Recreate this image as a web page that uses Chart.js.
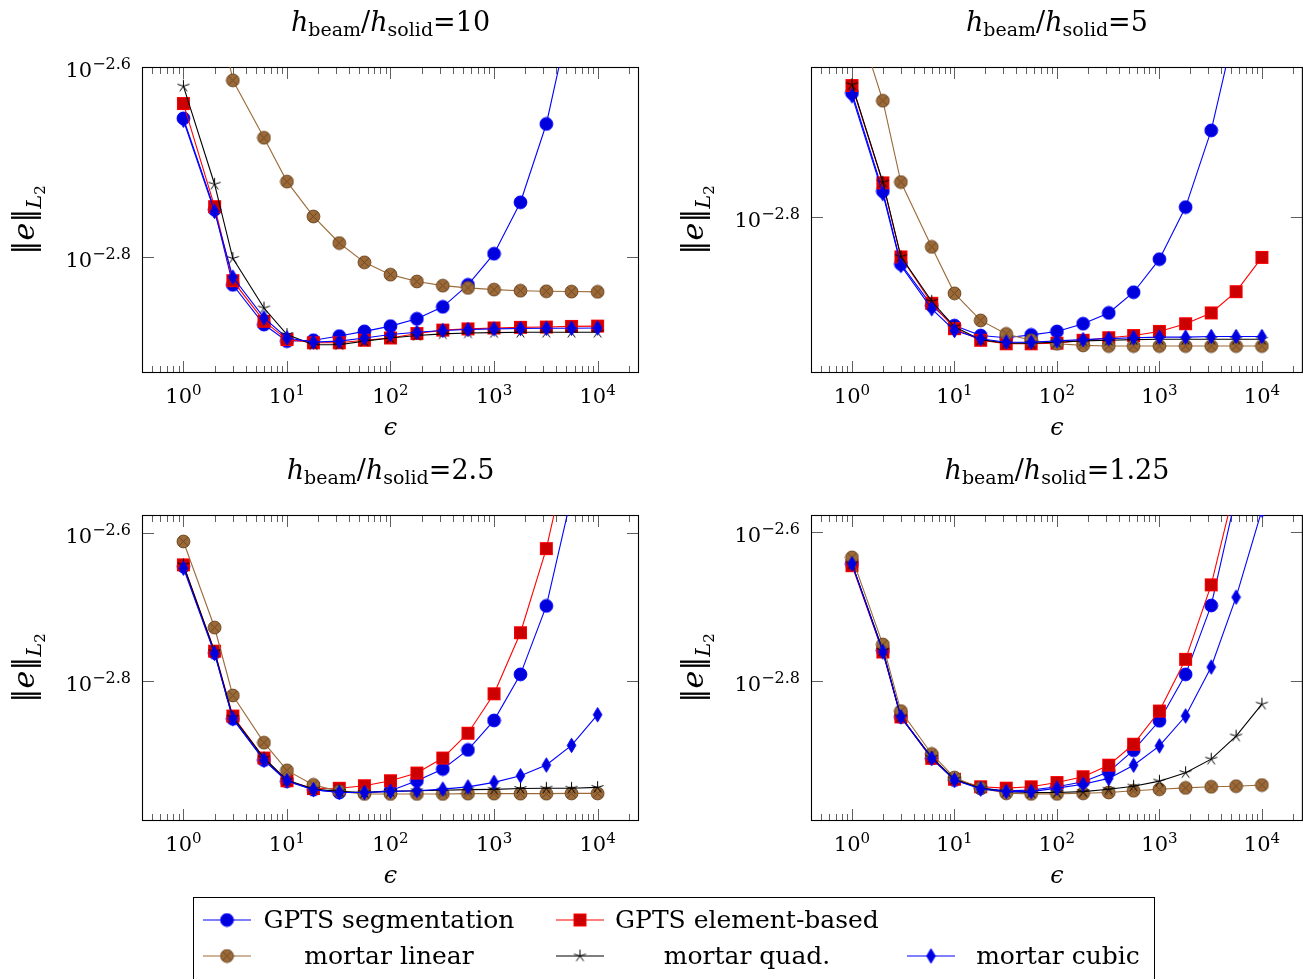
<!DOCTYPE html>
<html lang="en">
<head>
<meta charset="UTF-8">
<title>L2 error vs penalty parameter</title>
<script src="https://cdn.jsdelivr.net/npm/chart.js@4.4.0/dist/chart.umd.min.js"></script>
<style>
  body { margin: 0; background: #fff; width: 1310px; height: 979px; position: relative; overflow: hidden; font-family: "DejaVu Serif", serif; }
  canvas.panel { position: absolute; }
  #legend { position: absolute; left: 193px; top: 897px; width: 962px; height: 95px; border: 1px solid #000; box-sizing: border-box; }
  .lg-txt { position: absolute; width: 400px; text-align: center; font-size: 25px; line-height: 30px; color: #000; white-space: nowrap; }
  .lg-mark { position: absolute; }
</style>
</head>
<body>
<canvas id="p0" class="panel" width="655" height="448" style="left:0;top:0"></canvas>
<canvas id="p1" class="panel" width="655" height="448" style="left:655px;top:0"></canvas>
<canvas id="p2" class="panel" width="655" height="448" style="left:0;top:448px"></canvas>
<canvas id="p3" class="panel" width="655" height="448" style="left:655px;top:448px"></canvas>
<div id="legend"></div>

<script>
// penalty parameter epsilon
const eps = [1, 2, 3, 6, 10, 18, 32, 56, 100, 180, 320, 560, 1000, 1800, 3200, 5600, 10000];
const xTickLabels = ['0', '1', '2', '3', '4'];
const yTickLabels = ['\u22122.6', '\u22122.8'];

const seriesNames = ['GPTS segmentation', 'GPTS element-based', 'mortar linear', 'mortar quad.', 'mortar cubic'];

// h_beam / h_solid = 10
const seg10  = [2.218e-3, 1.778e-3, 1.482e-3, 1.346e-3, 1.293e-3, 1.296e-3, 1.309e-3, 1.324e-3, 1.341e-3, 1.365e-3, 1.405e-3, 1.482e-3, 1.598e-3, 1.810e-3, 2.188e-3, 2.884e-3, 4.169e-3];
const elem10 = [2.299e-3, 1.791e-3, 1.497e-3, 1.357e-3, 1.298e-3, 1.288e-3, 1.288e-3, 1.296e-3, 1.303e-3, 1.317e-3, 1.328e-3, 1.332e-3, 1.335e-3, 1.337e-3, 1.338e-3, 1.340e-3, 1.341e-3];
const lin10  = [3.802e-3, 3.020e-3, 2.432e-3, 2.116e-3, 1.903e-3, 1.749e-3, 1.640e-3, 1.565e-3, 1.519e-3, 1.494e-3, 1.479e-3, 1.471e-3, 1.465e-3, 1.461e-3, 1.459e-3, 1.458e-3, 1.457e-3];
const quad10 = [2.398e-3, 1.891e-3, 1.580e-3, 1.401e-3, 1.314e-3, 1.282e-3, 1.282e-3, 1.293e-3, 1.303e-3, 1.311e-3, 1.316e-3, 1.319e-3, 1.320e-3, 1.321e-3, 1.321e-3, 1.321e-3, 1.321e-3];
const cub10  = [2.208e-3, 1.770e-3, 1.510e-3, 1.368e-3, 1.303e-3, 1.290e-3, 1.293e-3, 1.303e-3, 1.314e-3, 1.321e-3, 1.327e-3, 1.330e-3, 1.332e-3, 1.333e-3, 1.334e-3, 1.334e-3, 1.335e-3];

// h_beam / h_solid = 5
const seg5  = [2.239e-3, 1.703e-3, 1.390e-3, 1.238e-3, 1.171e-3, 1.139e-3, 1.132e-3, 1.141e-3, 1.152e-3, 1.177e-3, 1.213e-3, 1.285e-3, 1.409e-3, 1.629e-3, 2.017e-3, 2.723e-3, 3.981e-3];
const elem5 = [2.286e-3, 1.743e-3, 1.418e-3, 1.246e-3, 1.161e-3, 1.124e-3, 1.113e-3, 1.113e-3, 1.115e-3, 1.124e-3, 1.132e-3, 1.139e-3, 1.152e-3, 1.177e-3, 1.213e-3, 1.287e-3, 1.416e-3];
const lin5  = [2.871e-3, 2.191e-3, 1.747e-3, 1.458e-3, 1.281e-3, 1.188e-3, 1.144e-3, 1.124e-3, 1.113e-3, 1.108e-3, 1.106e-3, 1.106e-3, 1.106e-3, 1.106e-3, 1.106e-3, 1.106e-3, 1.106e-3];
const quad5 = [2.291e-3, 1.746e-3, 1.419e-3, 1.253e-3, 1.167e-3, 1.126e-3, 1.115e-3, 1.115e-3, 1.118e-3, 1.122e-3, 1.124e-3, 1.126e-3, 1.127e-3, 1.127e-3, 1.127e-3, 1.127e-3, 1.127e-3];
const cub5  = [2.221e-3, 1.691e-3, 1.384e-3, 1.227e-3, 1.155e-3, 1.129e-3, 1.118e-3, 1.118e-3, 1.122e-3, 1.126e-3, 1.129e-3, 1.132e-3, 1.134e-3, 1.134e-3, 1.136e-3, 1.136e-3, 1.136e-3];

// h_beam / h_solid = 2.5
const seg25  = [2.264e-3, 1.730e-3, 1.409e-3, 1.239e-3, 1.160e-3, 1.130e-3, 1.120e-3, 1.120e-3, 1.126e-3, 1.162e-3, 1.205e-3, 1.279e-3, 1.402e-3, 1.618e-3, 2.002e-3, 2.818e-3, 3.981e-3];
const elem25 = [2.275e-3, 1.739e-3, 1.421e-3, 1.247e-3, 1.162e-3, 1.134e-3, 1.135e-3, 1.144e-3, 1.162e-3, 1.190e-3, 1.247e-3, 1.347e-3, 1.523e-3, 1.842e-3, 2.393e-3, 3.388e-3, 5.012e-3];
const lin25  = [2.447e-3, 1.872e-3, 1.515e-3, 1.308e-3, 1.200e-3, 1.147e-3, 1.124e-3, 1.115e-3, 1.115e-3, 1.115e-3, 1.115e-3, 1.116e-3, 1.116e-3, 1.116e-3, 1.116e-3, 1.117e-3, 1.117e-3];
const quad25 = [2.275e-3, 1.736e-3, 1.416e-3, 1.247e-3, 1.164e-3, 1.132e-3, 1.124e-3, 1.120e-3, 1.124e-3, 1.126e-3, 1.128e-3, 1.130e-3, 1.131e-3, 1.134e-3, 1.135e-3, 1.135e-3, 1.138e-3];
const cub25  = [2.252e-3, 1.726e-3, 1.409e-3, 1.239e-3, 1.162e-3, 1.130e-3, 1.120e-3, 1.120e-3, 1.124e-3, 1.126e-3, 1.132e-3, 1.140e-3, 1.156e-3, 1.180e-3, 1.220e-3, 1.297e-3, 1.427e-3];

// h_beam / h_solid = 1.25
const seg125  = [2.278e-3, 1.742e-3, 1.418e-3, 1.247e-3, 1.166e-3, 1.137e-3, 1.128e-3, 1.130e-3, 1.142e-3, 1.160e-3, 1.196e-3, 1.279e-3, 1.401e-3, 1.618e-3, 2.003e-3, 2.818e-3, 3.981e-3];
const elem125 = [2.266e-3, 1.734e-3, 1.418e-3, 1.247e-3, 1.169e-3, 1.142e-3, 1.137e-3, 1.142e-3, 1.157e-3, 1.178e-3, 1.221e-3, 1.303e-3, 1.444e-3, 1.695e-3, 2.135e-3, 2.938e-3, 4.467e-3];
const lin125  = [2.325e-3, 1.775e-3, 1.444e-3, 1.264e-3, 1.175e-3, 1.137e-3, 1.119e-3, 1.117e-3, 1.117e-3, 1.119e-3, 1.122e-3, 1.128e-3, 1.133e-3, 1.138e-3, 1.142e-3, 1.144e-3, 1.148e-3];
const quad125 = [2.278e-3, 1.742e-3, 1.418e-3, 1.251e-3, 1.169e-3, 1.137e-3, 1.125e-3, 1.122e-3, 1.122e-3, 1.125e-3, 1.133e-3, 1.144e-3, 1.162e-3, 1.193e-3, 1.244e-3, 1.336e-3, 1.475e-3];
const cub125  = [2.278e-3, 1.734e-3, 1.418e-3, 1.247e-3, 1.166e-3, 1.134e-3, 1.125e-3, 1.125e-3, 1.137e-3, 1.151e-3, 1.172e-3, 1.221e-3, 1.296e-3, 1.422e-3, 1.655e-3, 2.055e-3, 2.692e-3];

const FONT = '"DejaVu Serif", serif';
const xTickVals = [1, 10, 100, 1000, 10000];
const yTickVals = [Math.pow(10, -2.6), Math.pow(10, -2.8)];

// marker images
function mk(w, h, draw) {
  const c = document.createElement('canvas');
  c.width = w; c.height = h;
  const g = c.getContext('2d');
  draw(g, w / 2, h / 2);
  return c;
}
const markCircle = mk(15, 15, (g, cx, cy) => {
  g.beginPath(); g.arc(cx, cy, 6.4, 0, Math.PI * 2);
  g.fillStyle = '#0000dd'; g.fill();
  g.strokeStyle = '#0000ff'; g.lineWidth = 1; g.stroke();
});
const markSquare = mk(15, 15, (g, cx, cy) => {
  g.fillStyle = '#cc0000'; g.fillRect(cx - 6, cy - 6, 12, 12);
  g.strokeStyle = '#ff0000'; g.lineWidth = 1; g.strokeRect(cx - 6, cy - 6, 12, 12);
});
const markOtimes = mk(15, 15, (g, cx, cy) => {
  g.beginPath(); g.arc(cx, cy, 6.4, 0, Math.PI * 2);
  g.fillStyle = '#9c6a38'; g.fill();
  g.strokeStyle = '#6e4823'; g.lineWidth = 1; g.stroke();
  const d = 4.4;
  g.beginPath();
  g.moveTo(cx - d, cy - d); g.lineTo(cx + d, cy + d);
  g.moveTo(cx + d, cy - d); g.lineTo(cx - d, cy + d);
  g.stroke();
});
const markStar = mk(15, 15, (g, cx, cy) => {
  g.strokeStyle = '#000'; g.lineWidth = 1;
  g.beginPath();
  for (let k = 0; k < 5; k++) {
    const a = -Math.PI / 2 + k * 2 * Math.PI / 5;
    g.moveTo(cx, cy); g.lineTo(cx + 6.3 * Math.cos(a), cy + 6.3 * Math.sin(a));
  }
  g.stroke();
});
const markDiamond = mk(11, 17, (g, cx, cy) => {
  g.beginPath();
  g.moveTo(cx, cy - 7.2); g.lineTo(cx + 4.3, cy); g.lineTo(cx, cy + 7.2); g.lineTo(cx - 4.3, cy); g.closePath();
  g.fillStyle = '#0000dd'; g.fill();
  g.strokeStyle = '#0000ff'; g.lineWidth = 1; g.stroke();
});

const seriesStyle = [
  { line: '#0000ff', mark: markCircle },
  { line: '#ff0000', mark: markSquare },
  { line: '#9c6a38', mark: markOtimes },
  { line: '#000000', mark: markStar },
  { line: '#0000ff', mark: markDiamond }
];

function fontOf(p) { return (p.it ? 'italic ' : '') + p.size + 'px ' + FONT; }
function drawRich(ctx, parts, x, y, align) {
  let w = 0;
  parts.forEach(p => { ctx.font = fontOf(p); w += ctx.measureText(p.t).width + (p.gap || 0); });
  let cx = align === 'center' ? x - w / 2 : (align === 'right' ? x - w : x);
  ctx.textAlign = 'left';
  ctx.textBaseline = 'alphabetic';
  parts.forEach(p => {
    ctx.font = fontOf(p);
    ctx.fillText(p.t, cx, y + (p.dy || 0));
    cx += ctx.measureText(p.t).width + (p.gap || 0);
  });
}

const decor = {
  id: 'decor',
  beforeDatasetsDraw(chart) {
    const { ctx, chartArea: a, scales: { x, y } } = chart;
    ctx.save();
    ctx.strokeStyle = '#606060';
    ctx.lineWidth = 1;
    ctx.beginPath();
    for (let d = -1; d <= 4; d++) {
      for (let k = 1; k <= 9; k++) {
        const v = k * Math.pow(10, d);
        if (v < x.min || v > x.max) continue;
        const px = Math.round(x.getPixelForValue(v)) + 0.5;
        const len = k === 1 ? 12 : 7;
        ctx.moveTo(px, a.bottom); ctx.lineTo(px, a.bottom - len);
        ctx.moveTo(px, a.top); ctx.lineTo(px, a.top + len);
      }
    }
    yTickVals.forEach(v => {
      if (v < y.min || v > y.max) return;
      const py = Math.round(y.getPixelForValue(v)) + 0.5;
      ctx.moveTo(a.left, py); ctx.lineTo(a.left + 12, py);
      ctx.moveTo(a.right, py); ctx.lineTo(a.right - 12, py);
    });
    ctx.stroke();
    ctx.strokeStyle = '#000';
    ctx.lineWidth = 1.1;
    ctx.strokeRect(a.left + 0.5, a.top + 0.5, a.right - a.left - 1, a.bottom - a.top - 1);
    ctx.restore();
  },
  afterDraw(chart, args, opts) {
    const { ctx, chartArea: a, scales: { x, y } } = chart;
    const mid = (a.left + a.right) / 2;
    ctx.save();
    ctx.fillStyle = '#000';
    // title
    drawRich(ctx, [
      { t: 'h', it: true, size: 27 },
      { t: 'beam', size: 19, dy: 5 },
      { t: '/', size: 27 },
      { t: 'h', it: true, size: 27 },
      { t: 'solid', size: 19, dy: 5 },
      { t: '=' + opts.ratio, size: 27 }
    ], mid, 31, 'center');
    // x tick labels
    xTickVals.forEach((v, i) => {
      drawRich(ctx, [{ t: '10', size: 21 }, { t: xTickLabels[i], size: 15, dy: -8 }],
        x.getPixelForValue(v), a.bottom + 30, 'center');
    });
    // y tick labels
    yTickVals.forEach((v, i) => {
      if (v < y.min * 0.999 || v > y.max * 1.001) return;
      const py = y.getPixelForValue(v);
      drawRich(ctx, [{ t: '10', size: 21 }, { t: yTickLabels[i], size: 16, dy: -8 }],
        a.left - 11, py + 10, 'right');
    });
    // x axis title
    drawRich(ctx, [{ t: '\u03f5', it: true, size: 24 }], mid, a.bottom + 62, 'center');
    // y axis title
    ctx.translate(a.left - 108, (a.top + a.bottom) / 2);
    ctx.rotate(-Math.PI / 2);
    drawRich(ctx, [
      { t: '|', size: 30, gap: -6 },
      { t: '|', size: 30 },
      { t: 'e', it: true, size: 30 },
      { t: '|', size: 30, gap: -6 },
      { t: '|', size: 30 },
      { t: 'L', it: true, size: 21, dy: 7 },
      { t: '2', size: 15, dy: 11 }
    ], 0, 0, 'center');
    ctx.restore();
  }
};

const panels = [
  { id: 'p0', ratio: '10',   pad: { left: 142, top: 67, right: 16, bottom: 75 }, yMin: 1.197e-3, yMax: Math.pow(10, -2.6), series: [seg10, elem10, lin10, quad10, cub10] },
  { id: 'p1', ratio: '5',    pad: { left: 156, top: 67, right: 4,  bottom: 75 }, yMin: 1.026e-3, yMax: 2.407e-3, series: [seg5, elem5, lin5, quad5, cub5] },
  { id: 'p2', ratio: '2.5',  pad: { left: 142, top: 67, right: 16, bottom: 75 }, yMin: 1.025e-3, yMax: 2.657e-3, series: [seg25, elem25, lin25, quad25, cub25] },
  { id: 'p3', ratio: '1.25', pad: { left: 156, top: 67, right: 4,  bottom: 75 }, yMin: 1.027e-3, yMax: 2.651e-3, series: [seg125, elem125, lin125, quad125, cub125] }
];

panels.forEach(p => {
  new Chart(document.getElementById(p.id), {
    type: 'line',
    data: {
      datasets: p.series.map((vals, i) => ({
        label: seriesNames[i],
        data: eps.map((e, k) => ({ x: e, y: vals[k] })),
        borderColor: seriesStyle[i].line,
        borderWidth: 1.1,
        pointStyle: seriesStyle[i].mark,
        pointRadius: 6,
        fill: false,
        tension: 0,
        order: 4 - i
      }))
    },
    options: {
      responsive: false,
      animation: false,
      devicePixelRatio: 1,
      layout: { padding: p.pad },
      events: [],
      plugins: {
        legend: { display: false },
        tooltip: { enabled: false },
        decor: { ratio: p.ratio }
      },
      scales: {
        x: { type: 'logarithmic', display: false, bounds: 'data', min: Math.pow(10, -0.4), max: Math.pow(10, 4.4) },
        y: { type: 'logarithmic', display: false, bounds: 'data', min: p.yMin, max: p.yMax }
      }
    },
    plugins: [decor]
  });
});

// legend (HTML text, canvas samples)
const legendCells = [
  { s: 0, row: 0, col: 0 }, { s: 1, row: 0, col: 1 },
  { s: 2, row: 1, col: 0 }, { s: 3, row: 1, col: 1 }, { s: 4, row: 1, col: 2 }
];
const colMarkX = [203, 556, 907];
const colTextMid = [389, 747, 1058];
const rowMid = [920, 956];
const legend = document.getElementById('legend');
const lx = 193, ly = 897;
legendCells.forEach(c => {
  const st = seriesStyle[c.s];
  const m = mk(48, 24, (g, cx, cy) => {
    g.strokeStyle = st.line; g.lineWidth = 1.1;
    g.beginPath(); g.moveTo(0, cy); g.lineTo(48, cy); g.stroke();
    g.drawImage(st.mark, cx - st.mark.width / 2, cy - st.mark.height / 2);
  });
  m.className = 'lg-mark';
  m.style.left = (colMarkX[c.col] - lx - 1) + 'px';
  m.style.top = (rowMid[c.row] - 12 - ly - 1) + 'px';
  legend.appendChild(m);
  const t = document.createElement('div');
  t.className = 'lg-txt';
  t.textContent = seriesNames[c.s];
  t.style.left = (colTextMid[c.col] - 200 - lx - 1) + 'px';
  t.style.top = (rowMid[c.row] - 15 - ly - 1) + 'px';
  legend.appendChild(t);
});
</script>
</body>
</html>
